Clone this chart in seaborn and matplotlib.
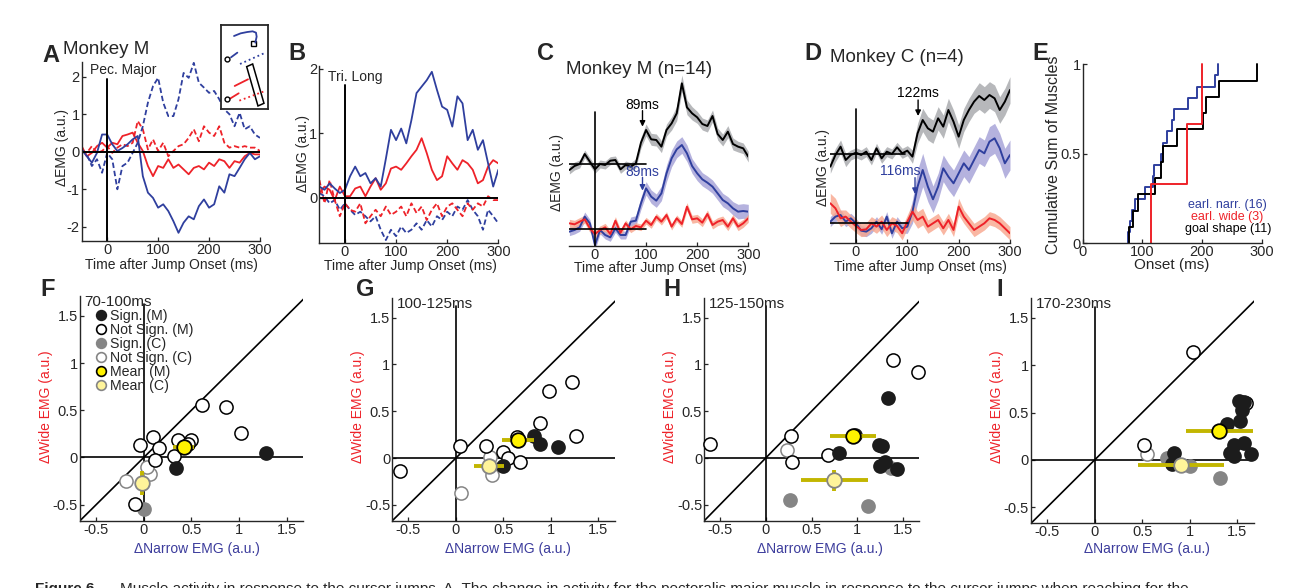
import matplotlib
matplotlib.use('Agg')
import matplotlib.pyplot as plt
import seaborn as sns
from matplotlib.lines import Line2D
from matplotlib.patches import Polygon, Rectangle

# ---- data ----
t_ms = list(range(-50, 301, 10))

# panel A, pectoralis major (narrow = blue, wide = red; solid / dashed = two jump directions)
a_blue_solid = [0.06, -0.12, -0.29, -0.03, 0.46, 0.46, 0.2, 0.02, 0.1, 0.2, 0.33, 0.42, -0.65, -1.09, -1.23, -1.49, -1.4, -1.58,
                -1.85, -2.16, -1.89, -1.72, -1.8, -1.45, -1.27, -1.49, -1.4, -0.92, -1.09, -0.6, -0.65, -0.43, -0.2, -0.03, -0.2, -0.12]
a_blue_dash = [0.06, -0.07, -0.38, -0.2, -0.56, -0.03, -0.2, -1.0, -0.38, -0.29, -0.03, 0.24, 0.68, 1.31, 1.75, 1.97, 1.31, 0.95,
               0.95, 1.4, 2.1, 1.97, 2.37, 1.84, 1.71, 1.57, 1.62, 1.4, 1.13, 1.0, 0.68, 1.04, 0.6, 0.68, 0.46, 0.37]
a_red_solid = [0.15, -0.12, -0.03, 0.15, 0.24, 0.11, 0.24, 0.2, 0.42, 0.46, 0.51, 0.24, 0.02, -0.38, -0.65, -0.38, -0.43, -0.2,
               -0.43, -0.34, -0.47, -0.6, -0.43, -0.38, -0.47, -0.29, -0.38, -0.2, -0.25, -0.43, -0.25, -0.29, -0.12, -0.03, -0.07, -0.07]
a_red_dash = [0.02, -0.03, 0.15, -0.03, 0.02, 0.15, -0.03, 0.11, 0.2, 0.15, 0.24, 0.82, 0.6, 0.06, 0.33, 0.02, 0.24, -0.12,
              0.02, 0.15, 0.2, 0.37, 0.6, 0.28, 0.68, 0.51, 0.42, 0.68, 0.24, 0.11, 0.15, 0.11, 0.15, 0.11, 0.11, 0.02]

# panel B, triceps long
b_blue_solid = [0.17, 0.12, 0.22, 0.14, 0.07, 0.12, 0.33, 0.48, 0.33, 0.38, 0.22, 0.3, 0.17, 0.6, 1.05, 0.89, 1.07, 0.84,
                1.2, 1.62, 1.72, 1.82, 1.95, 1.67, 1.41, 1.36, 1.1, 1.57, 1.46, 0.89, 1.05, 0.74, 0.89, 0.53, 0.17, 0.43]
b_red_solid = [0.07, 0.17, 0.12, -0.04, 0.17, 0.02, 0.02, 0.14, 0.17, 0.02, 0.17, 0.3, 0.12, 0.22, 0.45, 0.48, 0.43, 0.53,
               0.64, 0.74, 0.92, 0.69, 0.43, 0.27, 0.33, 0.64, 0.53, 0.43, 0.58, 0.53, 0.43, 0.22, 0.27, 0.48, 0.58, 0.53]
b_blue_dash = [0.07, 0.02, -0.09, -0.04, -0.19, -0.09, -0.19, -0.27, -0.22, -0.29, -0.37, -0.29, -0.5, -0.66, -0.5, -0.6, -0.45, -0.55,
               -0.5, -0.4, -0.5, -0.35, -0.45, -0.29, -0.35, -0.22, -0.29, -0.14, -0.19, -0.04, -0.19, -0.29, -0.5, -0.19, -0.29, -0.4]
b_red_dash = [0.27, -0.09, 0.27, -0.04, -0.29, -0.09, -0.19, -0.22, -0.09, -0.4, -0.29, -0.19, -0.29, -0.14, -0.27, -0.22, -0.14, -0.29,
              -0.09, -0.24, -0.14, -0.35, -0.19, -0.09, -0.29, -0.14, -0.09, -0.19, -0.29, -0.09, -0.19, -0.09, -0.14, 0.02, -0.04, -0.04]

# panel C, monkey M population (goal shape offset upwards)
c_black = [1.77, 1.89, 1.95, 2.25, 2.02, 1.79, 1.95, 1.92, 2.05, 2.07, 1.79, 1.92, 1.87, 1.97, 2.59, 2.97, 2.69, 2.67,
           2.47, 2.97, 3.17, 3.47, 4.37, 3.65, 3.47, 3.35, 3.15, 3.09, 3.39, 2.85, 2.67, 2.92, 2.55, 2.47, 2.42, 2.17]
c_blue = [-0.08, -0.03, 0.05, 0.37, 0.17, -0.48, -0.03, -0.18, -0.25, 0.02, -0.18, -0.18, 0.22, 0.25, 0.77, 1.22, 0.97, 0.85,
          1.07, 1.67, 2.12, 2.39, 2.52, 2.27, 1.89, 1.67, 1.49, 1.39, 1.27, 1.07, 0.87, 0.77, 0.62, 0.52, 0.54, 0.52]
c_red = [0.17, 0.14, 0.22, 0.29, 0.02, -0.15, -0.03, 0.05, -0.15, 0.25, -0.11, 0.17, -0.01, 0.09, 0.05, 0.25, 0.12, 0.37,
         0.22, 0.42, 0.07, 0.32, 0.15, 0.67, 0.29, 0.32, 0.19, 0.45, 0.12, 0.22, 0.27, 0.07, 0.32, 0.07, 0.17, 0.32]
c_black_sem = [0.12, 0.12, 0.12, 0.12, 0.12, 0.12, 0.12, 0.12, 0.12, 0.12, 0.12, 0.12, 0.12, 0.14, 0.16, 0.18, 0.18, 0.18,
               0.18, 0.18, 0.2, 0.22, 0.25, 0.22, 0.2, 0.18, 0.18, 0.18, 0.18, 0.18, 0.18, 0.18, 0.18, 0.16, 0.16, 0.16]
c_blue_sem = [0.12, 0.12, 0.12, 0.14, 0.12, 0.15, 0.12, 0.12, 0.12, 0.12, 0.12, 0.12, 0.14, 0.15, 0.18, 0.2, 0.2, 0.2,
              0.22, 0.25, 0.25, 0.25, 0.25, 0.25, 0.22, 0.22, 0.2, 0.2, 0.2, 0.2, 0.2, 0.2, 0.2, 0.22, 0.22, 0.22]
c_red_sem = [0.12, 0.12, 0.12, 0.12, 0.12, 0.12, 0.12, 0.12, 0.12, 0.12, 0.1, 0.1, 0.1, 0.1, 0.1, 0.1, 0.1, 0.1,
             0.1, 0.1, 0.1, 0.1, 0.1, 0.12, 0.12, 0.12, 0.12, 0.12, 0.12, 0.12, 0.12, 0.12, 0.12, 0.12, 0.12, 0.12]
c_base_goal = 1.94

# panel D, monkey C population
d_black = [1.68, 2.03, 2.28, 1.88, 2.03, 2.10, 2.03, 2.13, 1.88, 2.23, 1.93, 2.13, 2.06, 2.26, 2.08, 2.16, 1.98, 2.68,
           3.08, 2.83, 2.73, 3.13, 2.88, 3.38, 3.03, 2.58, 3.08, 3.38, 3.63, 3.80, 3.68, 3.83, 3.73, 3.38, 3.63, 3.98]
d_blue = [0.03, 0.18, 0.23, 0.03, 0.13, -0.02, -0.24, -0.27, -0.17, 0.03, -0.20, 0.18, -0.32, 0.03, -0.17, -0.12, 0.33, 1.08,
          1.58, 1.08, 0.7, 1.08, 1.63, 1.38, 1.18, 1.48, 1.78, 1.58, 1.88, 2.18, 2.08, 2.43, 2.53, 2.23, 1.78, 2.03]
d_red = [0.58, 0.43, 0.13, 0.18, 0.03, -0.10, -0.22, -0.20, -0.02, -0.12, 0.03, -0.22, -0.02, -0.10, -0.32, 0.03, 0.33, 0.08,
         0.18, -0.12, -0.02, 0.08, -0.17, 0.08, -0.22, 0.48, 0.18, -0.02, -0.22, -0.12, -0.02, 0.13, 0.08, -0.02, -0.17, -0.32]
d_black_sem = [0.2, 0.2, 0.2, 0.2, 0.15, 0.15, 0.15, 0.15, 0.15, 0.15, 0.15, 0.15, 0.15, 0.15, 0.15, 0.15, 0.2, 0.3,
               0.35, 0.35, 0.35, 0.35, 0.35, 0.35, 0.35, 0.35, 0.35, 0.35, 0.35, 0.4, 0.4, 0.4, 0.4, 0.4, 0.4, 0.4]
d_blue_sem = [0.15, 0.15, 0.15, 0.15, 0.15, 0.15, 0.15, 0.15, 0.15, 0.15, 0.15, 0.15, 0.15, 0.15, 0.15, 0.2, 0.35, 0.5,
              0.5, 0.45, 0.4, 0.4, 0.4, 0.4, 0.4, 0.4, 0.4, 0.4, 0.4, 0.4, 0.4, 0.45, 0.45, 0.45, 0.45, 0.45]
d_red_sem = [0.3, 0.3, 0.25, 0.2, 0.2, 0.2, 0.2, 0.2, 0.2, 0.2, 0.2, 0.2, 0.2, 0.2, 0.2, 0.2, 0.25, 0.25,
             0.25, 0.2, 0.2, 0.2, 0.2, 0.2, 0.2, 0.25, 0.2, 0.2, 0.2, 0.2, 0.2, 0.2, 0.2, 0.2, 0.2, 0.2]
d_base_goal = 2.05

# panel E, onset latencies (ms)
onset_narrow = [76, 79, 83, 88, 104, 117, 120, 132, 134, 141, 149, 153, 177, 191, 222, 226]
onset_wide = [114, 175, 200]
onset_goal = [78, 84, 92, 121, 131, 134, 158, 201, 207, 229, 292]

# panels F-I, (narrow, wide) EMG per muscle
windows = ['70-100ms', '100-125ms', '125-150ms', '170-230ms']
f_sig_m = [(1.28, 0.05), (0.34, -0.11)]
f_open_m = [(0.61, 0.56), (0.86, 0.53), (1.02, 0.26), (0.10, 0.22), (-0.04, 0.13), (0.16, 0.10), (0.12, -0.03),
            (0.32, 0.02), (0.36, 0.18), (0.50, 0.18), (0.46, 0.14), (-0.09, -0.49)]
f_sig_c = [(0.0, -0.55)]
f_open_c = [(-0.19, -0.25), (0.06, -0.18), (0.03, -0.10)]
g_sig_m = [(0.82, 0.23), (0.88, 0.15), (1.08, 0.12), (0.50, -0.09)]
g_open_m = [(-0.59, -0.14), (0.04, 0.13), (0.32, 0.13), (0.50, 0.06), (0.55, 0.0), (0.67, -0.04), (0.88, 0.37),
            (0.98, 0.72), (1.22, 0.81), (1.26, 0.23), (0.64, 0.22)]
g_sig_c = []
g_open_c = [(0.36, 0.01), (0.38, -0.18), (0.05, -0.37)]
h_sig_m = [(1.33, 0.64), (0.80, 0.05), (0.97, 0.25), (1.24, 0.14), (1.27, 0.13), (1.25, -0.09), (1.30, -0.04), (1.43, -0.12)]
h_open_m = [(-0.61, 0.15), (0.28, 0.23), (0.29, -0.04), (0.68, 0.03), (1.39, 1.05), (1.66, 0.92)]
h_sig_c = [(0.26, -0.45), (1.12, -0.51), (1.37, -0.11)]
h_open_c = [(0.23, 0.09)]
i_sig_m = [(0.83, 0.07), (0.81, -0.04), (1.39, 0.38), (1.52, 0.62), (1.55, 0.53), (1.53, 0.41), (1.46, 0.16),
           (1.42, 0.07), (1.46, 0.04), (1.57, 0.18), (1.64, 0.06), (1.57, 0.61)]
i_open_m = [(1.03, 1.14), (0.52, 0.16), (1.59, 0.60)]
i_sig_c = [(0.76, 0.02), (1.00, -0.06), (1.32, -0.19)]
i_open_c = [(0.55, 0.06)]

mean_m_x = [0.42, 0.65, 0.95, 1.31]
mean_m_y = [0.11, 0.19, 0.24, 0.31]
mean_m_xerr = [0.11, 0.17, 0.25, 0.35]
mean_m_yerr = [0.04, 0.03, 0.04, 0.02]
mean_c_x = [-0.02, 0.35, 0.75, 0.91]
mean_c_y = [-0.27, -0.09, -0.24, -0.05]
mean_c_xerr = [0.02, 0.16, 0.37, 0.45]
mean_c_yerr = [0.13, 0.02, 0.11, 0.02]

# ---- style ----
BLUE = '#2f3f9e'
RED = '#ee2229'
GRAY_BAND = '#a5a7aa'
BLUE_BAND = '#a39fd6'
RED_BAND = '#f8a58c'
OLIVE = '#c2b600'
YELLOW = '#fff200'
LYELLOW = '#fff49a'
MGRAY = '#858585'
LBLUE = '#3c3c9c'

sns.set_style('ticks')
plt.rcParams['font.family'] = ['Liberation Sans', 'DejaVu Sans']
plt.rcParams['axes.linewidth'] = 1.0
plt.rcParams['axes.unicode_minus'] = False

W, H = 1309, 588
fig = plt.figure(figsize=(W / 100, H / 100), dpi=100)
TICK_FS = 10.5


def add_ax(l, t, r, b):
    return fig.add_axes([l / W, 1 - b / H, (r - l) / W, (b - t) / H])


def ftext(x, y, s, **kw):
    kw.setdefault('ha', 'center')
    kw.setdefault('va', 'center')
    fig.text(x / W, 1 - y / H, s, **kw)


def style(ax, left=True):
    sns.despine(ax=ax, left=not left)
    ax.tick_params(direction='in', length=3, width=0.9, labelsize=TICK_FS, pad=1.5)
    if not left:
        ax.set_yticks([])
    ax.set_xlabel('')
    ax.set_ylabel('')


def trace(ax, y, color, dashed=False, lw=1.3):
    ls = (0, (3, 1.6)) if dashed else '-'
    sns.lineplot(x=t_ms, y=y, ax=ax, color=color, lw=lw, linestyle=ls)


def band(ax, y, sem, color):
    lo = [v - s for v, s in zip(y, sem)]
    hi = [v + s for v, s in zip(y, sem)]
    ax.fill_between(t_ms, lo, hi, color=color, alpha=0.8, lw=0)


# ---- A ----
axA = add_ax(81.7, 61.7, 260, 240.7)
trace(axA, a_red_dash, RED, dashed=True)
trace(axA, a_red_solid, RED)
trace(axA, a_blue_dash, BLUE, dashed=True)
trace(axA, a_blue_solid, BLUE)
axA.axhline(0, color='black', lw=1.4)
axA.plot([0, 0], [-2.37, 1.94], color='black', lw=1.4)
axA.set_xlim(-50, 300)
axA.set_ylim(-2.37, 2.4)
axA.set_xticks([0, 100, 200, 300])
axA.set_yticks([-2, -1, 0, 1, 2])
style(axA)

# inset sketch of the targets
axIn = add_ax(220.7, 25, 268.3, 109.3)
axIn.set_xlim(572, 715)
axIn.set_ylim(268, 15)
axIn.set_xticks([])
axIn.set_yticks([])
for sp in axIn.spines.values():
    sp.set_linewidth(1.3)
axIn.plot([612, 632, 652, 668, 678, 680, 676], [48, 40, 36, 34, 38, 50, 68], color=BLUE, lw=1.3)
axIn.add_patch(Rectangle((664, 64), 14, 14, fill=False, ec='black', lw=1))
axIn.plot([603, 622], [112, 98], color=BLUE, lw=1.3)
axIn.plot([630, 702], [132, 100], color=BLUE, lw=1.3, ls=':')
axIn.plot([614, 654], [198, 178], color=RED, lw=1.3)
axIn.plot([600, 626], [236, 220], color=RED, lw=1.3)
axIn.plot([628, 700], [242, 215], color=RED, lw=1.3, ls=':')
axIn.plot([592, 592], [118, 238], ls='', marker='o', ms=3.5, mfc='white', mec='black', mew=1)
axIn.add_patch(Polygon([(650, 140), (668, 132), (702, 250), (684, 258)], closed=True, fill=False, ec='black', lw=1.1))

# ---- B ----
axB = add_ax(319.4, 66, 498.3, 243.3)
trace(axB, b_blue_dash, BLUE, dashed=True)
trace(axB, b_red_dash, RED, dashed=True)
trace(axB, b_red_solid, RED)
trace(axB, b_blue_solid, BLUE)
axB.axhline(0, color='black', lw=1.4)
axB.plot([0, 0], [-0.71, 1.75], color='black', lw=1.4)
axB.set_xlim(-50, 300)
axB.set_ylim(-0.71, 2.04)
axB.set_xticks([0, 100, 200, 300])
axB.set_yticks([0, 1, 2])
style(axB)

# ---- C ----
axC = add_ax(569.4, 75, 748.3, 246)
band(axC, c_black, c_black_sem, GRAY_BAND)
band(axC, c_blue, c_blue_sem, BLUE_BAND)
band(axC, c_red, c_red_sem, RED_BAND)
trace(axC, c_black, 'black', lw=1.4)
trace(axC, c_blue, BLUE, lw=1.4)
trace(axC, c_red, RED, lw=1.4)
axC.plot([-50, 100], [0, 0], color='black', lw=1.2)
axC.plot([-50, 100], [c_base_goal, c_base_goal], color='black', lw=1.2)
axC.plot([0, 0], [-0.51, 3.52], color='black', lw=1.2)
axC.annotate('', xy=(93, 3.07), xytext=(93, 3.55),
             arrowprops=dict(arrowstyle='-|>', color='black', lw=1, mutation_scale=8, shrinkA=0, shrinkB=0))
axC.text(93, 3.72, '89ms', ha='center', va='center', fontsize=10, color='black')
axC.annotate('', xy=(93, 1.15), xytext=(93, 1.55),
             arrowprops=dict(arrowstyle='-|>', color=BLUE, lw=1, mutation_scale=8, shrinkA=0, shrinkB=0))
axC.text(92, 1.72, '89ms', ha='center', va='center', fontsize=10, color=BLUE)
axC.set_xlim(-50, 300)
axC.set_ylim(-0.51, 4.62)
axC.set_xticks([0, 100, 200, 300])
style(axC, left=False)

# ---- D ----
axD = add_ax(830.3, 75, 1010, 243.3)
band(axD, d_black, d_black_sem, GRAY_BAND)
band(axD, d_blue, d_blue_sem, BLUE_BAND)
band(axD, d_red, d_red_sem, RED_BAND)
trace(axD, d_black, 'black', lw=1.4)
trace(axD, d_blue, BLUE, lw=1.4)
trace(axD, d_red, RED, lw=1.4)
axD.plot([-50, 102], [0, 0], color='black', lw=1.2)
axD.plot([-50, 95], [d_base_goal, d_base_goal], color='black', lw=1.2)
axD.plot([0, 0], [-0.62, 3.4], color='black', lw=1.2)
axD.annotate('', xy=(121, 3.2), xytext=(121, 3.68),
             arrowprops=dict(arrowstyle='-|>', color='black', lw=1, mutation_scale=8, shrinkA=0, shrinkB=0))
axD.text(121, 3.88, '122ms', ha='center', va='center', fontsize=10, color='black')
axD.annotate('', xy=(115, 0.86), xytext=(115, 1.35),
             arrowprops=dict(arrowstyle='-|>', color=BLUE, lw=1, mutation_scale=8, shrinkA=0, shrinkB=0))
axD.text(86, 1.55, '116ms', ha='center', va='center', fontsize=10, color=BLUE)
axD.set_xlim(-50, 300)
axD.set_ylim(-0.62, 4.43)
axD.set_xticks([0, 100, 200, 300])
style(axD, left=False)

# ---- E ----
axE = add_ax(1082.7, 64.3, 1261.7, 243.3)
sns.ecdfplot(x=onset_narrow, ax=axE, color=BLUE, lw=1.4)
sns.ecdfplot(x=onset_goal, ax=axE, color='black', lw=1.4)
sns.ecdfplot(x=onset_wide, ax=axE, color=RED, lw=1.4)
for ln in axE.lines:
    ln.set_clip_on(False)
axE.set_xlim(0, 300)
axE.set_ylim(0, 1)
axE.set_xticks([0, 100, 200, 300])
axE.set_yticks([0, 0.5, 1])
axE.set_yticklabels(['0', '0.5', '1'])
style(axE)
axE.text(1.028, 0.214, 'earl. narr. (16)', transform=axE.transAxes, ha='right', va='center', fontsize=9, color=BLUE)
axE.text(1.006, 0.147, 'earl. wide (3)', transform=axE.transAxes, ha='right', va='center', fontsize=9, color=RED)
axE.text(1.053, 0.08, 'goal shape (11)', transform=axE.transAxes, ha='right', va='center', fontsize=9, color='black')

# ---- F-I ----
scatter_boxes = [(80, 296, 303.3, 520.7), (392.3, 298, 615, 520.7), (704.3, 298, 919.3, 520.7), (1031, 298, 1254, 523.3)]
groups = [(f_open_c, f_sig_c, f_open_m, f_sig_m), (g_open_c, g_sig_c, g_open_m, g_sig_m),
          (h_open_c, h_sig_c, h_open_m, h_sig_m), (i_open_c, i_sig_c, i_open_m, i_sig_m)]
lo, hi = -0.67, 1.69


def dots(ax, pts, face, edge, z, s=90, lw=1.1):
    if not pts:
        return
    xs, ys = zip(*pts)
    sns.scatterplot(x=list(xs), y=list(ys), ax=ax, s=s, color=face, edgecolor=edge, linewidth=lw, zorder=z,
                    legend=False, clip_on=False)


scatter_axes = []
for k, box in enumerate(scatter_boxes):
    ax = add_ax(*box)
    open_c, sig_c, open_m, sig_m = groups[k]
    ax.plot([lo, hi], [lo, hi], color='black', lw=1.2, zorder=1)
    ax.plot([lo, hi], [0, 0], color='black', lw=1.2, zorder=1)
    ax.plot([0, 0], [lo, 1.62], color='black', lw=1.2, zorder=1)
    dots(ax, open_c, 'white', MGRAY, 2)
    dots(ax, sig_c, MGRAY, MGRAY, 2)
    dots(ax, open_m, 'white', 'black', 3)
    dots(ax, sig_m, '#1c1c1c', '#1c1c1c', 3)
    ax.errorbar([mean_c_x[k]], [mean_c_y[k]], xerr=[mean_c_xerr[k]], yerr=[mean_c_yerr[k]], fmt='none',
                ecolor=OLIVE, elinewidth=2.8, capsize=0, zorder=4)
    ax.errorbar([mean_m_x[k]], [mean_m_y[k]], xerr=[mean_m_xerr[k]], yerr=[mean_m_yerr[k]], fmt='none',
                ecolor=OLIVE, elinewidth=2.8, capsize=0, zorder=4)
    dots(ax, [(mean_c_x[k], mean_c_y[k])], LYELLOW, MGRAY, 5, s=110, lw=1.3)
    dots(ax, [(mean_m_x[k], mean_m_y[k])], YELLOW, 'black', 6, s=110, lw=1.3)
    ax.set_xlim(lo, 1.675)
    ax.set_ylim(lo, 1.71)
    ticks = [-0.5, 0, 0.5, 1, 1.5]
    ax.set_xticks(ticks)
    ax.set_yticks(ticks)
    ax.set_xticklabels(['-0.5', '0', '0.5', '1', '1.5'])
    ax.set_yticklabels(['-0.5', '0', '0.5', '1', '1.5'])
    style(ax)
    ax.text(0.02, 0.975, windows[k], transform=ax.transAxes, ha='left', va='center', fontsize=11)
    scatter_axes.append(ax)

legend_items = [
    ('Sign. (M)', '#1c1c1c', '#1c1c1c'),
    ('Not Sign. (M)', 'white', 'black'),
    ('Sign. (C)', MGRAY, MGRAY),
    ('Not Sign. (C)', 'white', MGRAY),
    ('Mean (M)', YELLOW, 'black'),
    ('Mean (C)', LYELLOW, MGRAY),
]
handles = [Line2D([], [], ls='', marker='o', ms=7, mfc=fc, mec=ec, mew=1.2, label=lab) for lab, fc, ec in legend_items]
scatter_axes[0].legend(handles=handles, loc='upper left', bbox_to_anchor=(95 / W, 1 - 308.5 / H),
                       bbox_transform=fig.transFigure, frameon=False, fontsize=10.2, handlelength=0.8,
                       handletextpad=0.25, labelspacing=0.0, borderpad=0, borderaxespad=0)

# ---- labels and titles ----
lab = dict(fontsize=10)
for x, y in [(171.7, 265), (410, 266), (660, 268), (920, 267)]:
    ftext(x, y, 'Time after Jump Onset (ms)', **lab)
ftext(1171.7, 265, 'Onset (ms)', fontsize=11)
ftext(62, 147, 'ΔEMG (a.u.)', rotation=90, **lab)
ftext(303, 153, 'ΔEMG (a.u.)', rotation=90, **lab)
ftext(557, 173, 'ΔEMG (a.u.)', rotation=90, **lab)
ftext(823, 167, 'ΔEMG (a.u.)', rotation=90, **lab)
ftext(1053, 155, 'Cumulative Sum of Muscles', rotation=90, fontsize=11.5)
for x, xl in zip([46, 358, 670, 997], [196.7, 508.3, 820, 1146.7]):
    ftext(x, 407, 'ΔWide EMG (a.u.)', rotation=90, color=RED, **lab)
    ftext(xl, 549, 'ΔNarrow EMG (a.u.)', color=LBLUE, **lab)

ftext(63, 50, 'Monkey M', ha='left', fontsize=13.5)
ftext(90, 70, 'Pec. Major', ha='left', fontsize=10)
ftext(328, 77, 'Tri. Long', ha='left', fontsize=10)
ftext(639, 70, 'Monkey M (n=14)', fontsize=13.5)
ftext(897, 57, 'Monkey C (n=4)', fontsize=13.5)

for letter, x, y in [('A', 51, 55), ('B', 297, 53), ('C', 546, 53), ('D', 813, 53), ('E', 1040, 53),
                     ('F', 48, 290), ('G', 365, 290), ('H', 672, 290), ('I', 1000, 290)]:
    ftext(x, y, letter, fontsize=17, fontweight='bold')

ftext(35, 582, 'Figure 6.', ha='left', va='top', fontsize=11, fontweight='bold')
ftext(120, 582, 'Muscle activity in response to the cursor jumps. A, The change in activity for the pectoralis major '
                'muscle in response to the cursor jumps when reaching for the', ha='left', va='top', fontsize=11)

fig.savefig('out.png', dpi=100)
